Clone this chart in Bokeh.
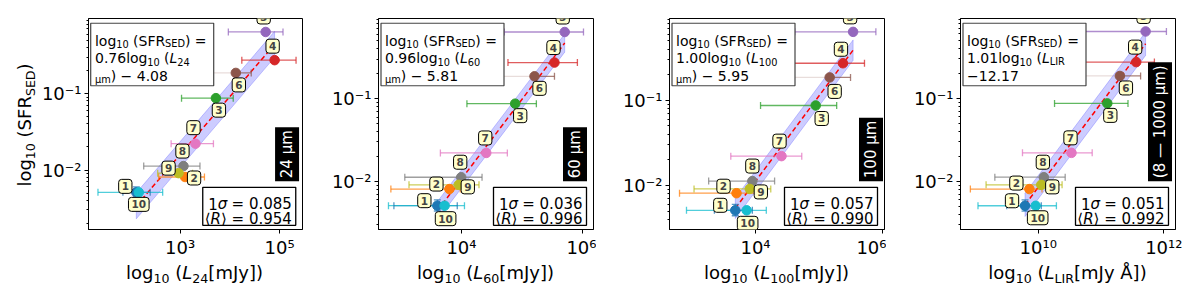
import numpy as np
from bokeh.plotting import figure
from bokeh.layouts import row, column
from bokeh.models import Range1d, FixedTicker, CustomJSTickFormatter, Label, Div
from bokeh.embed import file_html
from bokeh.resources import INLINE

# ---------------- data ----------------
ids = [1, 2, 3, 4, 5, 6, 7, 8, 9, 10]
sfr = [0.0051, 0.0081, 0.087, 0.273, 0.638, 0.186, 0.0221, 0.01125, 0.0091, 0.0051]
sfr_lo = [0.0044, 0.0081, 0.087, 0.273, 0.638, 0.186, 0.0221, 0.01125, 0.0091, 0.0051]
sfr_hi = [0.0060, 0.0081, 0.087, 0.273, 0.638, 0.186, 0.0221, 0.01125, 0.0091, 0.0051]

L24 = [132, 1260, 5250, 79400, 52500, 13200, 2040, 1170, 933, 148]
L24_lo = [71, 372, 1070, 17400, 9330, 2570, 661, 186, 355, 22.4]
L24_hi = [251, 3090, 11700, 214000, 117000, 26900, 4680, 2510, 1780, 447]

L60 = [3980, 6310, 77600, 347000, 513000, 162000, 25700, 9890, 9020, 5250]
L60_lo = [759, 676, 12300, 58900, 51300, 20900, 4470, 1150, 1350, 617]
L60_hi = [8510, 9550, 174000, 832000, 1050000, 347000, 57500, 21900, 19500, 11200]

L100 = [4790, 5010, 89100, 240000, 347000, 148000, 25700, 8910, 8130, 7240]
L100_lo = [2240, 631, 12000, 39800, 41700, 17800, 4070, 1820, 1070, 813]
L100_hi = [8910, 10700, 191000, 525000, 794000, 316000, 53700, 20000, 17400, 14800]

LIR = [6.17e9, 7.24e9, 1.26e11, 3.63e11, 5.13e11, 2.00e11, 3.39e10, 1.23e10, 1.12e10, 9.12e9]
LIR_lo = [3.16e9, 8.32e8, 1.82e10, 5.01e10, 5.62e10, 2.57e10, 5.62e9, 2.04e9, 1.48e9, 1.10e9]
LIR_hi = [1.12e10, 1.15e10, 2.69e11, 7.08e11, 1.10e12, 4.27e11, 7.24e10, 2.69e10, 2.40e10, 1.95e10]

fit_slope = [0.76, 0.96, 1.00, 1.01]
fit_intercept = [-4.08, -5.81, -5.95, -12.17]
band_halfwidth = [0.17, 0.11, 0.12, 0.14]
sigma_1 = ["0.085", "0.036", "0.057", "0.051"]
mean_R = ["0.954", "0.996", "0.990", "0.992"]
band_names = ["24 µm", "60 µm", "100 µm", "(8 — 1000 µm)"]
slope_txt = ["0.76", "0.96", "1.00", "1.01"]
icpt_txt = ["4.08", "5.81", "5.95", "12.17"]
lum_sub = ["24", "60", "100", "LIR"]
x_unit = ["[mJy])", "[mJy])", "[mJy])", "[mJy Å])"]
x_ticks = [[1e3, 1e5], [1e4, 1e6], [1e4, 1e6], [1e10, 1e12]]
y_ticks = [0.01, 0.1]
y_minor = [0.002, 0.003, 0.004, 0.005, 0.006, 0.007, 0.008, 0.009,
           0.02, 0.03, 0.04, 0.05, 0.06, 0.07, 0.08, 0.09,
           0.2, 0.3, 0.4, 0.5, 0.6, 0.7, 0.8, 0.9]

panels = [(L24, L24_lo, L24_hi), (L60, L60_lo, L60_hi),
          (L100, L100_lo, L100_hi), (LIR, LIR_lo, LIR_hi)]

# ---------------- layout / style ----------------
colors = ["#1f77b4", "#ff7f0e", "#2ca02c", "#d62728", "#9467bd",
          "#8c564b", "#e377c2", "#7f7f7f", "#bcbd22", "#17becf"]
x_range_log = [(1.16, 5.46), (2.625, 6.187), (2.642, 6.036), (8.763, 12.186)]
y_range_log = [(-2.778, -0.019), (-2.58, -0.032), (-2.518, -0.038), (-2.578, -0.039)]
YLAB_W = 38
fig_w = [305 - YLAB_W, 291, 290, 302]
b_left = [87 - YLAB_W, 73, 73, 74]
b_right = [3, 3, 2, 13]
FW, FH = 215, 214
B_TOP = 18
FIG_H = 260
XLAB_H = 31
FONT = "DejaVu Sans"
tag_right_gap = [9, 12, 7, 9]

# numbered-label offsets in pixels (dx right, dy down)
lab_off = [
    {5: (-2, -15), 4: (-2, -14), 6: (3, 12), 3: (3, 12), 7: (-2, -16), 8: (-1, -15), 9: (-10, -5), 2: (9, 1), 1: (-11, -6), 10: (0, 12)},
    {5: (-2, -15), 4: (-1, -15), 6: (5, 12), 3: (5, 12), 7: (-1, -15), 8: (-1, -15), 9: (9, 2), 2: (-13, -5), 1: (-13, -5), 10: (1, 13)},
    {5: (-3, -15), 4: (-2, -14), 6: (5, 14), 3: (6, 13), 7: (-2, -15), 8: (0, -15), 9: (11, 3), 2: (-13, -7), 1: (-15, -5), 10: (1, 13)},
    {5: (-2, -15), 4: (-1, -15), 6: (6, 12), 3: (3, 12), 7: (-1, -15), 8: (-1, -15), 9: (11, 2), 2: (-13, -6), 1: (-13, -5), 10: (2, 12)},
]

W = {' ': 0.318, '(': 0.390, ')': 0.390, '.': 0.318, '=': 0.838, '−': 0.838, 'l': 0.278,
     'o': 0.612, 'g': 0.635, 'S': 0.635, 'F': 0.575, 'R': 0.695, 'E': 0.632, 'D': 0.770,
     'L': 0.557, 'µ': 0.636, 'm': 0.974, '[': 0.390, ']': 0.390, 'J': 0.295, 'y': 0.592,
     'Å': 0.684, 'I': 0.295, 'σ': 0.602, '⟨': 0.390, '⟩': 0.390}
for d in "0123456789":
    W[d] = 0.636


def to_data(i, rx, ry):
    x0, x1 = x_range_log[i]
    y0, y1 = y_range_log[i]
    return 10 ** (x0 + rx / FW * (x1 - x0)), 10 ** (y1 - ry / FH * (y1 - y0))


def rich(p, i, rx, ry, segs, size, align="left", color="black"):
    ws = []
    for t, k in segs:
        fs = size * 0.7 if k.startswith("s") else size
        ws.append(sum(W.get(c, 0.6) for c in t) * fs)
    tot = sum(ws)
    cum = {"left": 0, "center": -tot / 2, "right": -tot}[align]
    for (t, k), w in zip(segs, ws):
        sub = k.startswith("s")
        fs = size * 0.7 if sub else size
        shift = 0.23 * size if sub else 0
        lead = len(t) - len(t.lstrip(" "))
        px, py = rx + cum + lead * W[" "] * fs, ry + shift
        xd, yd = to_data(i, px, py)
        p.add_layout(Label(x=xd, y=yd, text=t.strip(" "), text_font=FONT,
                           text_font_size=f"{fs:.1f}px",
                           text_font_style="italic" if k.endswith("i") else "normal",
                           text_color=color, text_align="left", text_baseline="alphabetic"))
        cum += w


SUB = '<span style="font-size:70%;position:relative;top:0.33em">{}</span>'

sup_js = """
const sup = {'-':'\u207b','0':'\u2070','1':'\u00b9','2':'\u00b2','3':'\u00b3','4':'\u2074',
             '5':'\u2075','6':'\u2076','7':'\u2077','8':'\u2078','9':'\u2079'};
const e = Math.round(Math.log10(tick));
return '10' + String(e).split('').map(c => sup[c]).join('');
"""

cols = []
for i in range(4):
    xs, xlo, xhi = panels[i]
    x0, x1 = x_range_log[i]
    y0, y1 = y_range_log[i]
    p = figure(width=fig_w[i], height=FIG_H, x_axis_type="log", y_axis_type="log",
               x_range=Range1d(10 ** x0, 10 ** x1), y_range=Range1d(10 ** y0, 10 ** y1),
               output_backend="svg", toolbar_location=None,
               min_border_left=b_left[i], min_border_right=b_right[i],
               min_border_top=B_TOP, min_border_bottom=FIG_H - B_TOP - FH)
    p.xgrid.visible = False
    p.ygrid.visible = False
    p.outline_line_color = "black"
    p.outline_line_width = 1
    p.background_fill_color = "white"
    p.xaxis.ticker = FixedTicker(ticks=x_ticks[i], minor_ticks=[])
    p.yaxis.ticker = FixedTicker(ticks=y_ticks, minor_ticks=y_minor)
    for ax in (p.xaxis[0], p.yaxis[0]):
        ax.formatter = CustomJSTickFormatter(code=sup_js)
        ax.major_label_text_font = FONT
        ax.major_label_text_font_size = "18px"
        ax.major_label_text_color = "black"
        ax.axis_line_color = "black"
        ax.major_tick_line_color = "black"
        ax.minor_tick_line_color = "black"
        ax.major_tick_out = 4
        ax.major_tick_in = 0
        ax.minor_tick_out = 2
        ax.minor_tick_in = 0
        ax.major_label_standoff = 3

    # fit band and line
    lx = [min(xs), max(xs)]
    line_y = [fit_slope[i] * np.log10(v) + fit_intercept[i] for v in lx]
    d = band_halfwidth[i]
    p.patch([lx[0], lx[1], lx[1], lx[0]],
            [10 ** (line_y[0] - d), 10 ** (line_y[1] - d), 10 ** (line_y[1] + d), 10 ** (line_y[0] + d)],
            fill_color="blue", fill_alpha=0.2, line_color="blue", line_alpha=0.2, line_width=1)
    p.line(lx, [10 ** v for v in line_y], line_color="red", line_width=1.5, line_dash="5 3")

    # error bars
    a_left = [0.75] * 10
    a_left[5] = 0.2
    p.segment(x0=xlo, y0=sfr, x1=xs, y1=sfr, line_color=colors, line_alpha=a_left, line_width=1.3)
    p.segment(x0=xs, y0=sfr, x1=xhi, y1=sfr, line_color=colors, line_alpha=0.75, line_width=1.3)
    p.scatter(xlo, sfr, marker="dash", size=7, angle=np.pi / 2, line_color=colors,
              line_alpha=a_left, line_width=1.3)
    p.scatter(xhi, sfr, marker="dash", size=7, angle=np.pi / 2, line_color=colors,
              line_alpha=0.75, line_width=1.3)
    p.segment(x0=xs[:1], y0=sfr_lo[:1], x1=xs[:1], y1=sfr_hi[:1], line_color=colors[0],
              line_alpha=0.75, line_width=1.3)
    p.scatter([xs[0], xs[0]], [sfr_lo[0], sfr_hi[0]], marker="dash", size=7,
              line_color=colors[0], line_alpha=0.75, line_width=1.3)
    # points
    p.scatter(xs, sfr, size=9.5, fill_color=colors, line_color=colors)

    # numbered labels
    for k, n in enumerate(ids):
        dx, dy = lab_off[i][n]
        p.add_layout(Label(x=xs[k], y=sfr[k], x_offset=dx, y_offset=-dy, text=str(n),
                           text_font=FONT, text_font_size="10.5px", text_font_style="bold",
                           text_align="center", text_baseline="middle",
                           background_fill_color="#ffffcc", border_line_color="black",
                           border_line_width=1, border_radius=3, padding=3))

    # equation box (upper left)
    cx, cy = to_data(i, 64, 36.5)
    p.rect(x=[cx], y=[cy], width=123, height=62.5, width_units="screen", height_units="screen",
           fill_color="white", line_color="#444444", line_width=1.2, level="guide")
    rich(p, i, 6.5, 22.5, [("log", "n"), ("10", "s"), (" (SFR", "n"), ("SED", "s"), (") =", "n")], 14)
    rich(p, i, 6.5, 40.5, [(slope_txt[i] + "log", "n"), ("10", "s"), (" (", "n"), ("L", "i"),
                           (lum_sub[i], "s")], 14)
    if i < 3:
        rich(p, i, 6.5, 58.5, [("µm", "s"), (") − " + icpt_txt[i], "n")], 14)
    else:
        rich(p, i, 6.5, 58.5, [("−" + icpt_txt[i], "n")], 14)

    # stats box (lower right)
    cx, cy = to_data(i, 161.5, 190.5)
    p.rect(x=[cx], y=[cy], width=93, height=38, width_units="screen", height_units="screen",
           fill_color="white", line_color="black", line_width=1.3, level="guide")
    rich(p, i, 204, 188, [("1", "n"), ("σ", "i"), (" = " + sigma_1[i], "n")], 15, align="right")
    rich(p, i, 204, 203.5, [("⟨", "n"), ("R", "i"), ("⟩ = " + mean_R[i], "n")], 15, align="right")

    # band name (black, rotated); anchor compensated for Bokeh's rotated-box placement
    bx, by = to_data(i, FW - tag_right_gap[i] - 6.5, 165)
    p.add_layout(Label(x=bx, y=by, text=band_names[i], angle=np.pi / 2, text_color="white",
                       text_font=FONT, text_font_size="15px", text_align="left",
                       text_baseline="middle", background_fill_color="black", padding=3))

    # x axis label (HTML, for sub/italic)
    xl_html = (f'<div style="margin-left:{b_left[i]}px;width:{FW}px;text-align:center;'
               f'font-family:\'DejaVu Sans\';font-size:18px;line-height:20px;white-space:nowrap;'
               f'color:black;padding-top:3px">'
               f'log{SUB.format("10")} (<i>L</i>{SUB.format(lum_sub[i])}{x_unit[i]}</div>')
    xdiv = Div(text=xl_html, width=fig_w[i], height=XLAB_H, margin=0)
    cols.append(column(p, xdiv, spacing=0))

yl_html = (f'<div style="position:relative;width:{YLAB_W}px;height:291px">'
           '<div style="position:absolute;left:-75px;top:115px;width:200px;height:20px;'
           'line-height:20px;text-align:center;transform:rotate(-90deg);'
           'font-family:\'DejaVu Sans\';font-size:18px;white-space:nowrap;color:black">'
           f'log{SUB.format("10")} (SFR{SUB.format("SED")})</div></div>')
ydiv = Div(text=yl_html, width=YLAB_W, height=FIG_H + XLAB_H, margin=0)

layout = row([ydiv] + cols, spacing=0)
open("out.html", "w").write(file_html(layout, INLINE))
